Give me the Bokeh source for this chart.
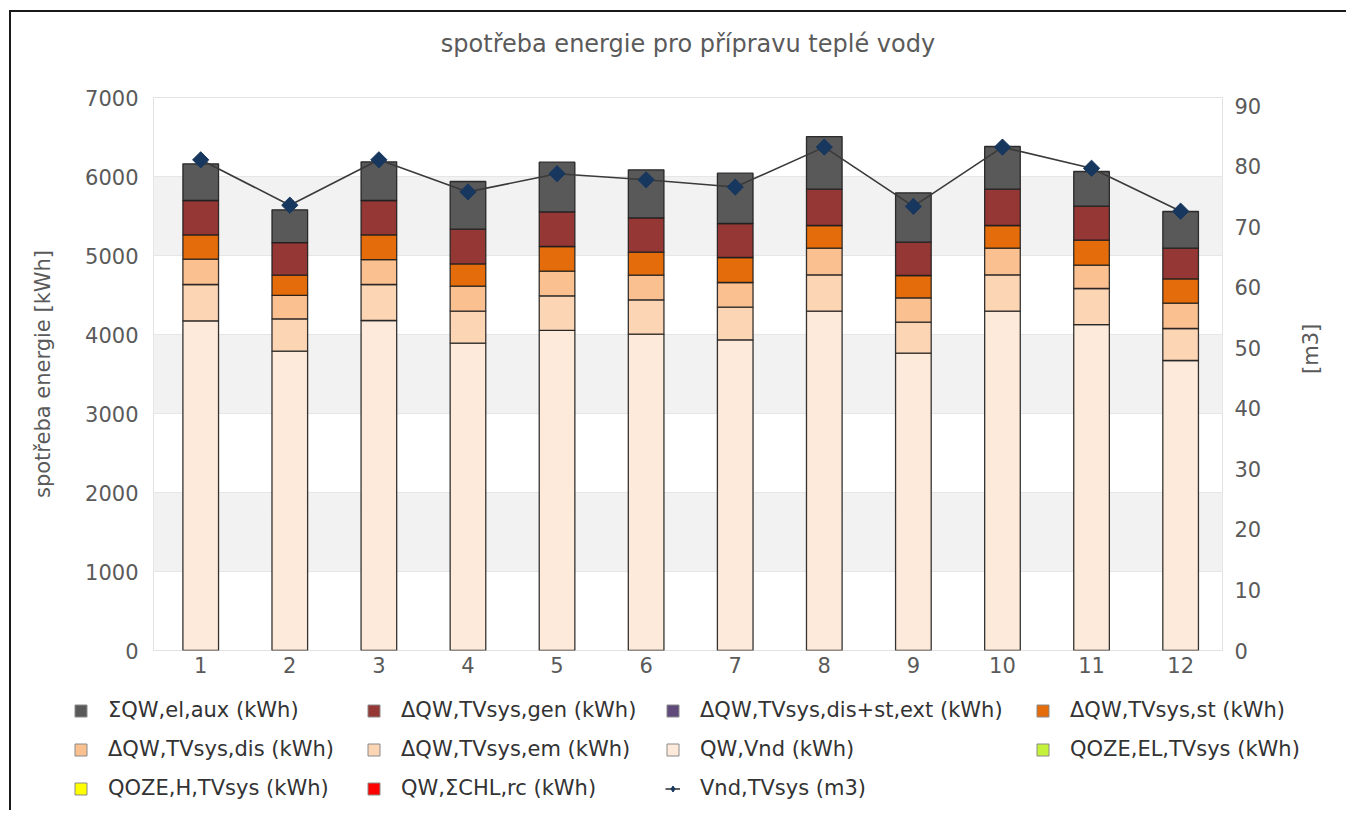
from bokeh.plotting import figure
from bokeh.models import (Range1d, LinearAxis, Legend, LegendItem, FixedTicker,
                          ColumnDataSource)
from bokeh.layouts import column
from bokeh.embed import file_html
from bokeh.resources import INLINE
import math

# ---------------- data ----------------
months = [1, 2, 3, 4, 5, 6, 7, 8, 9, 10, 11, 12]
month_labels = [str(m) for m in months]

q_w_vnd = [4173, 3789, 4177, 3890, 4051, 4004, 3933, 4295, 3763, 4295, 4126, 3671]
dq_em = [460, 409, 456, 405, 439, 435, 413, 460, 393, 460, 456, 405]
dq_dis = [320, 296, 316, 317, 311, 312, 312, 338, 308, 338, 295, 320]
dq_st = [309, 257, 313, 283, 313, 291, 317, 287, 283, 287, 317, 309]
dq_ext = [0, 0, 0, 0, 0, 0, 0, 0, 0, 0, 0, 0]
dq_gen = [434, 413, 434, 438, 439, 435, 430, 459, 422, 459, 430, 388]
q_aux = [464, 414, 490, 604, 628, 608, 637, 667, 624, 541, 439, 464]
qoze_el = [0, 0, 0, 0, 0, 0, 0, 0, 0, 0, 0, 0]
qoze_h = [0, 0, 0, 0, 0, 0, 0, 0, 0, 0, 0, 0]
q_chl_rc = [0, 0, 0, 0, 0, 0, 0, 0, 0, 0, 0, 0]
v_nd = [81.1, 73.6, 81.1, 75.8, 78.8, 77.8, 76.6, 83.2, 73.4, 83.2, 79.7, 72.6]

left_ticks = [0, 1000, 2000, 3000, 4000, 5000, 6000, 7000]
right_ticks = [0, 10, 20, 30, 40, 50, 60, 70, 80, 90]

title_text = "spotřeba energie pro přípravu teplé vody"
names = {
    "aux": "ΣQW,el,aux (kWh)",
    "gen": "ΔQW,TVsys,gen (kWh)",
    "ext": "ΔQW,TVsys,dis+st,ext (kWh)",
    "st": "ΔQW,TVsys,st (kWh)",
    "dis": "ΔQW,TVsys,dis (kWh)",
    "em": "ΔQW,TVsys,em (kWh)",
    "vnd": "QW,Vnd (kWh)",
    "qel": "QOZE,EL,TVsys (kWh)",
    "qh": "QOZE,H,TVsys (kWh)",
    "chl": "QW,ΣCHL,rc (kWh)",
    "vol": "Vnd,TVsys (m3)",
}
colors = {
    "aux": "#595959", "gen": "#953735", "ext": "#604A7B", "st": "#E46C0A",
    "dis": "#FAC090", "em": "#FCD5B5", "vnd": "#FDEADA", "qel": "#C4F23A",
    "qh": "#FFFF00", "chl": "#FF0000",
}
legend_columns = [
    ["aux", "dis", "qh"],
    ["gen", "em", "chl"],
    ["ext", "vnd", "vol"],
    ["st", "qel"],
]

FONT = "DejaVu Sans"
GRAY = "#5a5a5a"
LINE_C = "#3a3a3a"
MARK_C = "#17375E"
FS = "21px"
W = 1335
BL, BR = 142, 124

src = ColumnDataSource(dict(x=months, vnd=q_w_vnd, em=dq_em, dis=dq_dis, st=dq_st,
                            ext=dq_ext, gen=dq_gen, aux=q_aux, qel=qoze_el,
                            qh=qoze_h, chl=q_chl_rc, vol=v_nd))


def blank_fig(height, **kw):
    f = figure(width=W, height=height, output_backend="svg", toolbar_location=None,
               x_range=Range1d(-3, -2), y_range=Range1d(0, 1),
               x_axis_location=None, y_axis_location=None,
               background_fill_color="white", border_fill_color="white",
               outline_line_color=None, **kw)
    f.xgrid.visible = False
    f.ygrid.visible = False
    f.frame_align = False
    return f


# ---------------- title panel ----------------
tf = blank_fig(70, min_border_left=BL, min_border_right=BR, min_border_top=45,
               min_border_bottom=0)
tf.title.text = title_text
tf.title.align = "center"
tf.title.vertical_align = "bottom"
tf.title.standoff = 0
tf.title.text_font = FONT
tf.title.text_font_size = "24px"
tf.title.text_font_style = "normal"
tf.title.text_color = GRAY

# ---------------- main chart ----------------
p = figure(width=W, height=608, output_backend="svg", toolbar_location=None,
           title_location=None,
           x_range=Range1d(0.47, 12.47), y_range=Range1d(0, 7000),
           min_border_left=BL, min_border_right=BR, min_border_top=15,
           min_border_bottom=40, background_fill_color="white",
           border_fill_color="white")

p.outline_line_color = "#E2E2E2"
p.xgrid.grid_line_color = None
p.ygrid.grid_line_color = "#E6E6E6"
p.ygrid.band_fill_color = "#F2F2F2"
p.ygrid.band_fill_alpha = 1.0

stack_keys = ["vnd", "em", "dis", "st", "gen", "aux"]
p.vbar_stack(stack_keys, x="x", width=0.4, source=src,
             fill_color=[colors[k] for k in stack_keys],
             line_color="#1e1e1e", line_width=1.3, line_alpha=0.9)

p.extra_y_ranges = {"vol": Range1d(0, 91.4)}
p.line("x", "vol", source=src, y_range_name="vol", line_color=LINE_C, line_width=1.6)
p.scatter("x", "vol", source=src, y_range_name="vol", marker="square",
          angle=math.pi / 4, size=11.5, fill_color=MARK_C, line_color=MARK_C)

xa = p.xaxis[0]
xa.ticker = FixedTicker(ticks=months)
xa.major_label_overrides = {m: l for m, l in zip(months, month_labels)}
ya = p.yaxis[0]
ya.ticker = FixedTicker(ticks=left_ticks)
ya.axis_label = "spotřeba energie [kWh]"
ra = LinearAxis(y_range_name="vol", ticker=FixedTicker(ticks=right_ticks),
                axis_label="[m3]")
p.add_layout(ra, "right")
ra.axis_label_orientation = math.pi / 2

for ax in [xa, ya, ra]:
    ax.axis_line_color = None
    ax.major_tick_line_color = None
    ax.minor_tick_line_color = None
    ax.major_tick_in = 0
    ax.major_tick_out = 0
    ax.minor_tick_in = 0
    ax.minor_tick_out = 0
    ax.major_label_text_font = FONT
    ax.major_label_text_font_size = FS
    ax.major_label_text_color = GRAY
    ax.axis_label_text_font = FONT
    ax.axis_label_text_font_size = FS
    ax.axis_label_text_font_style = "normal"
    ax.axis_label_text_color = GRAY
xa.major_label_standoff = 6
ya.major_label_standoff = 15
ya.axis_label_standoff = 27
ra.major_label_standoff = 12
ra.axis_label_standoff = 47

# ---------------- legend panel ----------------
LF_H = 120
lf = blank_fig(LF_H, min_border_left=0, min_border_right=0, min_border_top=0,
               min_border_bottom=0)

# legend icon renderers (their data lies outside this panel's visible range)
icons = {}
for k, c in colors.items():
    icons[k] = [lf.vbar(x="x", top=k, width=0.4, source=src, fill_color=c,
                        line_color="#8a8a8a", line_width=1)]
icons["vol"] = [lf.line("x", "vol", source=src, line_color=LINE_C, line_width=1.6),
                lf.scatter("x", "vol", source=src, marker="diamond", size=11.5,
                           fill_color=MARK_C, line_color=MARK_C)]

col_x = [62, 355, 654, 1024]
row_h = 24
spacing = 15
top_gap = 8
for keys, vx in zip(legend_columns, col_x):
    n = len(keys)
    h = n * row_h + (n - 1) * spacing
    vy = LF_H - top_gap - h
    lg = Legend(items=[LegendItem(label=names[k], renderers=icons[k]) for k in keys],
                location=(vx, vy), orientation="vertical",
                glyph_width=15, glyph_height=15, label_height=row_h,
                label_standoff=20, spacing=spacing, padding=0, margin=0,
                border_line_alpha=0, background_fill_alpha=0,
                label_text_font=FONT, label_text_font_size=FS,
                label_text_color="#333333")
    lf.add_layout(lg, "center")

layout = column(tf, p, lf, spacing=0,
                styles={"border-top": "2px solid #1a1a1a",
                        "border-left": "2px solid #1a1a1a",
                        "margin-left": "9px", "margin-top": "10px"})

open("out.html", "w").write(file_html(layout, INLINE))
